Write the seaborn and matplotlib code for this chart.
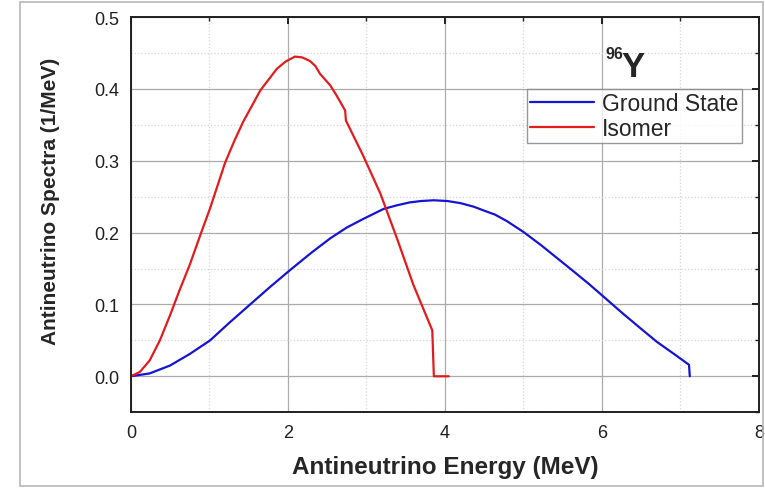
import numpy as np
import pandas as pd
import matplotlib
matplotlib.use("Agg")
import matplotlib.pyplot as plt
from matplotlib.patches import Rectangle
from matplotlib.ticker import MultipleLocator
import seaborn as sns

# ==============================
# data (MeV, 1/MeV)
# ==============================
ground_e = [0.0, 0.24, 0.50, 0.75, 1.01, 1.26, 1.52, 1.77, 2.03, 2.30, 2.54, 2.75, 2.96,
            3.22, 3.39, 3.55, 3.70, 3.86, 4.03, 4.20, 4.37, 4.49, 4.64, 4.79, 5.00, 5.22,
            5.47, 5.64, 5.83, 6.02, 6.25, 6.49, 6.70, 6.92, 7.11, 7.12]
ground_s = [0.0, 0.004, 0.015, 0.031, 0.050, 0.075, 0.100, 0.124, 0.148, 0.172, 0.192,
            0.207, 0.219, 0.233, 0.238, 0.242, 0.244, 0.245, 0.244, 0.241, 0.236, 0.231,
            0.225, 0.216, 0.201, 0.183, 0.161, 0.146, 0.129, 0.111, 0.089, 0.067, 0.048,
            0.031, 0.016, 0.0]

isomer_e = [0.0, 0.115, 0.24, 0.37, 0.50, 0.625, 0.75, 0.88, 1.01, 1.20, 1.32, 1.43, 1.65,
            1.86, 1.97, 2.09, 2.18, 2.28, 2.35, 2.41, 2.54, 2.62, 2.73, 2.74, 2.96, 3.18,
            3.39, 3.60, 3.84, 3.86, 4.05]
isomer_s = [0.0, 0.006, 0.022, 0.050, 0.085, 0.121, 0.155, 0.195, 0.234, 0.297, 0.328,
            0.354, 0.398, 0.428, 0.438, 0.445, 0.444, 0.439, 0.432, 0.421, 0.405, 0.391,
            0.370, 0.356, 0.307, 0.254, 0.192, 0.127, 0.064, 0.0, 0.0]

labels = ["Ground State", "Isomer"]
colors = ["#1414d2", "#e21c1e"]

df = pd.concat([
    pd.DataFrame({"E": ground_e, "S": ground_s, "state": labels[0]}),
    pd.DataFrame({"E": isomer_e, "S": isomer_s, "state": labels[1]}),
], ignore_index=True)

sns.set_theme(style="white")
plt.rcParams["font.family"] = ["Liberation Sans", "DejaVu Sans"]

fig = plt.figure(figsize=(7.65, 4.89), dpi=100)
ax = fig.add_axes([0.171, 0.155, 0.821, 0.808])

sns.lineplot(data=df, x="E", y="S", hue="state", palette=colors,
             sort=False, estimator=None, linewidth=1.6, ax=ax)

ax.set_xlim(0, 8)
ax.set_ylim(-0.05, 0.5)
ax.xaxis.set_major_locator(MultipleLocator(2))
ax.xaxis.set_minor_locator(MultipleLocator(1))
ax.yaxis.set_major_locator(MultipleLocator(0.1))
ax.yaxis.set_minor_locator(MultipleLocator(0.05))
ax.set_yticks([0.0, 0.1, 0.2, 0.3, 0.4, 0.5])

ax.grid(which="major", color="#ababab", linewidth=0.9, linestyle="-")
ax.grid(which="minor", color="#d6d6d6", linewidth=0.9, linestyle=":")
ax.set_axisbelow(True)

for sp in ax.spines.values():
    sp.set_color("#202020")
    sp.set_linewidth(1.4)

# outward ticks on left/bottom, inward on top/right
ax.tick_params(which="both", direction="out", color="#202020", labelsize=13,
               labelcolor="#202020")
ax.tick_params(which="both", top=True, right=True)
ax.tick_params(which="major", length=5, width=1.4)
ax.tick_params(which="minor", length=3, width=1.0)
for t in ax.xaxis.get_major_ticks() + ax.xaxis.get_minor_ticks():
    t.tick1line.set_marker(matplotlib.markers.TICKDOWN)
    t.tick2line.set_marker(matplotlib.markers.TICKDOWN)
for t in ax.yaxis.get_major_ticks() + ax.yaxis.get_minor_ticks():
    t.tick1line.set_marker(matplotlib.markers.TICKLEFT)
    t.tick2line.set_marker(matplotlib.markers.TICKLEFT)

ax.set_xlabel("Antineutrino Energy (MeV)", fontsize=17.5, fontweight="bold", labelpad=10)
ax.set_ylabel("Antineutrino Spectra (1/MeV)", fontsize=15, fontweight="bold")
ax.yaxis.set_label_coords(-0.113, 0.535)

leg = ax.legend(loc="upper right", bbox_to_anchor=(0.970, 0.816),
                bbox_transform=fig.transFigure, fontsize=16.5, frameon=True,
                fancybox=False, edgecolor="#808080", handlelength=2.8,
                borderpad=0.15, labelspacing=0.05, handletextpad=0.35,
                borderaxespad=0)
leg.get_frame().set_linewidth(1.0)

ax.text(6.04, 0.449, "96", fontsize=11.5, fontweight="bold", ha="left", va="center")
ax.text(6.25, 0.431, "Y", fontsize=25, fontweight="bold", ha="left", va="center")

# light frame around the whole picture
fig.patches.append(Rectangle((0.026, 0.004), 0.972, 0.99, transform=fig.transFigure,
                             fill=False, edgecolor="#b8b8b8", linewidth=1.2))

fig.savefig("out.png", dpi=100)
